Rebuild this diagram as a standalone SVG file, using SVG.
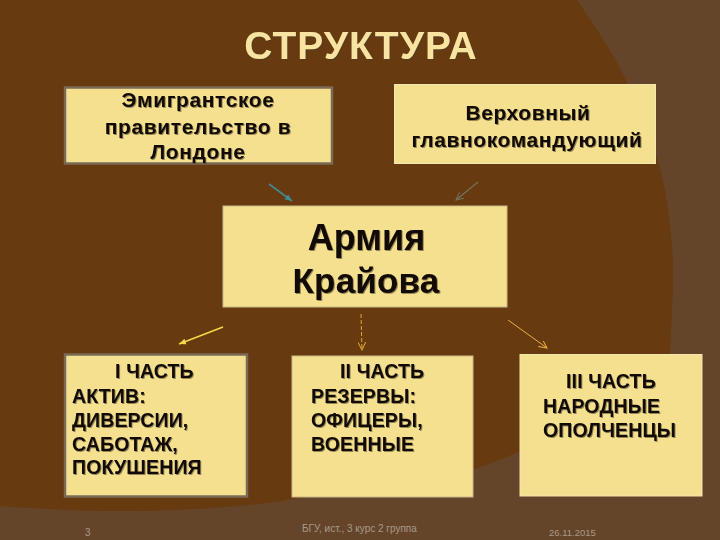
<svg xmlns="http://www.w3.org/2000/svg" width="720" height="540" viewBox="0 0 720 540">
<style>
text{font-family:"Liberation Sans",Arial,sans-serif;font-weight:bold;fill:#120a04}
.sh{filter:drop-shadow(1px 1px 0.6px rgba(70,60,40,.55))}
.box{fill:#f5e08f}
.grey{stroke:#7b6a55;stroke-width:2.5}
.pale{stroke:#f3e6b0;stroke-width:1}
.m{text-anchor:middle}
.t{font-size:21px;letter-spacing:.6px}
.l{font-size:19.5px;letter-spacing:.15px}
.f{font-weight:normal;fill:#a8998a;font-size:10px}
</style>
<defs>
<marker id="a" markerWidth="9" markerHeight="8" refX="8" refY="4" orient="auto" markerUnits="userSpaceOnUse"><path d="M0 0L8 4L0 8" fill="none" stroke="context-stroke" stroke-width="1"/></marker>
<marker id="b" markerWidth="8" markerHeight="8" refX="7" refY="4" orient="auto" markerUnits="userSpaceOnUse"><path d="M0 1L7 4L0 7Z" fill="context-stroke"/></marker>
</defs>
<rect id="bg" width="720" height="540" fill="#673a10"/>
<path id="shade" d="M577 0L720 0L720 373L473 470L293 499C230 510 130 513 70 510C40 509 15 507 0 506L0 540L720 540L720 0L577 0C592 22 608 45 622 72C640 105 657 150 665 190C671 225 674 260 673 285C672 320 670 350 668 393L720 373L720 0Z" fill="#654529"/>
<g id="title"><text class="m sh" x="361" y="59" font-size="39" style="fill:#f8e3a0;letter-spacing:1px">СТРУКТУРА</text></g>
<g id="connectors" fill="none">
<path d="M269 184L292 201" stroke="#3f8c92" stroke-width="1.6" marker-end="url(#b)"/>
<path d="M478 182L456 200" stroke="#76705a" stroke-width="1.4" marker-end="url(#a)"/>
<path d="M223 327L179 344" stroke="#f5d84a" stroke-width="1.6" marker-end="url(#b)"/>
<path d="M361 314L362 350" stroke="#e0a838" stroke-width="1" stroke-dasharray="4 2" marker-end="url(#a)"/>
<path d="M508 320L547 348" stroke="#e8b040" stroke-width="1" marker-end="url(#a)"/>
</g>
<g id="node-gov"><rect class="box grey" x="65" y="87.5" width="267" height="76"/>
<text class="m sh t" x="198" y="107">Эмигрантское</text>
<text class="m sh t" x="198" y="134">правительство в</text>
<text class="m sh t" x="198" y="159">Лондоне</text></g>
<g id="node-chief"><rect class="box pale" x="394.5" y="84.5" width="261" height="79"/>
<text class="m sh t" x="528" y="120">Верховный</text>
<text class="m sh t" x="527" y="147">главнокомандующий</text></g>
<g id="node-army"><rect class="box" x="223" y="206" width="284" height="101" stroke="#c9b987" stroke-width="1"/>
<text class="m sh" x="366.5" y="250" font-size="36">Армия</text>
<text class="m sh" x="366" y="293" font-size="35" style="letter-spacing:.2px">Крайова</text></g>
<g id="node-1"><rect class="box grey" x="65" y="354.5" width="182" height="142"/>
<text class="sh l" x="115" y="378">I ЧАСТЬ</text>
<text class="sh l" x="72" y="403">АКТИВ:</text>
<text class="sh l" x="72" y="427">ДИВЕРСИИ,</text>
<text class="sh l" x="72" y="451">САБОТАЖ,</text>
<text class="sh l" x="72" y="474">ПОКУШЕНИЯ</text></g>
<g id="node-2"><rect class="box" x="292" y="356" width="181" height="141" stroke="#c9b987" stroke-width="1"/>
<text class="sh l" x="340" y="378">II ЧАСТЬ</text>
<text class="sh l" x="311" y="403">РЕЗЕРВЫ:</text>
<text class="sh l" x="311" y="427">ОФИЦЕРЫ,</text>
<text class="sh l" x="311" y="451">ВОЕННЫЕ</text></g>
<g id="node-3"><rect class="box pale" x="520" y="354.5" width="182" height="141.5"/>
<text class="sh l" x="566" y="388">III ЧАСТЬ</text>
<text class="sh l" x="543" y="413">НАРОДНЫЕ</text>
<text class="sh l" x="543" y="437">ОПОЛЧЕНЦЫ</text></g>
<g id="footer">
<text class="f" x="85" y="536">3</text>
<text class="f" x="302" y="532">БГУ, ист., 3 курс 2 группа</text>
<text class="f" x="549" y="536" style="font-size:9.5px">26.11.2015</text>
</g>
</svg>
